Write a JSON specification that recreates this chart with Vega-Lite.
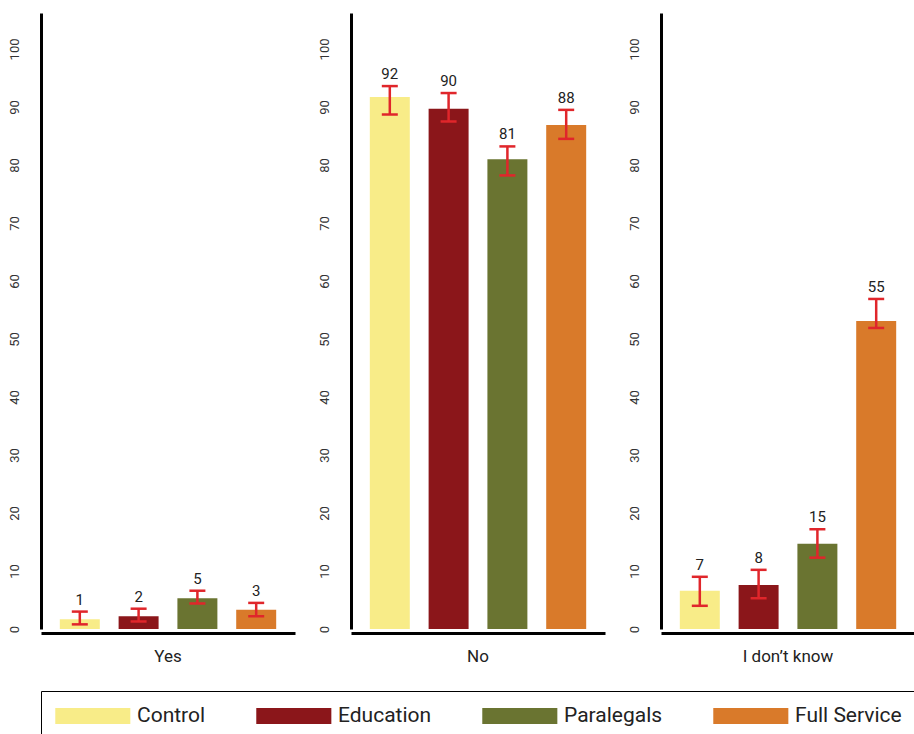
{
  "$schema": "https://vega.github.io/schema/vega-lite/v6.json",
  "background": "white",
  "padding": {"left": 7, "top": 13, "right": 0, "bottom": 0},
  "config": {
    "font": "Roboto",
    "view": {"stroke": null},
    "axis": {"grid": false}
  },
  "data": {
    "values": [
      {"response": "Yes", "group": "Control", "value": 1.7, "lo": 0.8, "hi": 3.0, "label": "1"},
      {"response": "Yes", "group": "Education", "value": 2.2, "lo": 1.3, "hi": 3.5, "label": "2"},
      {"response": "Yes", "group": "Paralegals", "value": 5.3, "lo": 4.4, "hi": 6.6, "label": "5"},
      {"response": "Yes", "group": "Full Service", "value": 3.3, "lo": 2.2, "hi": 4.5, "label": "3"},
      {"response": "No", "group": "Control", "value": 91.7, "lo": 88.7, "hi": 93.6, "label": "92"},
      {"response": "No", "group": "Education", "value": 89.7, "lo": 87.5, "hi": 92.4, "label": "90"},
      {"response": "No", "group": "Paralegals", "value": 81.0, "lo": 78.2, "hi": 83.2, "label": "81"},
      {"response": "No", "group": "Full Service", "value": 86.9, "lo": 84.5, "hi": 89.5, "label": "88"},
      {"response": "I don’t know", "group": "Control", "value": 6.6, "lo": 4.0, "hi": 9.0, "label": "7"},
      {"response": "I don’t know", "group": "Education", "value": 7.6, "lo": 5.3, "hi": 10.2, "label": "8"},
      {"response": "I don’t know", "group": "Paralegals", "value": 14.7, "lo": 12.3, "hi": 17.2, "label": "15"},
      {"response": "I don’t know", "group": "Full Service", "value": 53.1, "lo": 51.9, "hi": 56.9, "label": "55"}
    ]
  },
  "facet": {
    "column": {
      "field": "response",
      "type": "nominal",
      "sort": ["Yes", "No", "I don’t know"],
      "header": {
        "title": null,
        "labelOrient": "bottom",
        "labelFontSize": 17,
        "labelColor": "#222",
        "labelPadding": 24,
        "labelBaseline": "middle"
      }
    }
  },
  "spacing": 22,
  "resolve": {"axis": {"y": "independent"}},
  "spec": {
    "width": 254,
    "height": 616,
    "encoding": {
      "x": {
        "field": "group",
        "type": "nominal",
        "sort": ["Control", "Education", "Paralegals", "Full Service"],
        "scale": {"paddingInner": 0.32, "paddingOuter": 0.32},
        "axis": {"labels": false, "ticks": false, "title": null, "domainColor": "black", "domainWidth": 3}
      }
    },
    "layer": [
      {
        "mark": {"type": "bar"},
        "encoding": {
          "y": {
            "field": "value",
            "type": "quantitative",
            "scale": {"domain": [0, 106.2], "nice": false},
            "axis": {
              "title": null,
              "values": [0, 10, 20, 30, 40, 50, 60, 70, 80, 90, 100],
              "ticks": false,
              "labelAngle": 270,
              "labelAlign": "center",
              "labelBaseline": "bottom",
              "labelPadding": 20,
              "labelFontSize": 13,
              "labelColor": "#333",
              "domainColor": "black",
              "domainWidth": 3
            }
          },
          "color": {
            "field": "group",
            "type": "nominal",
            "sort": ["Control", "Education", "Paralegals", "Full Service"],
            "scale": {
              "domain": ["Control", "Education", "Paralegals", "Full Service"],
              "range": ["#F8EC88", "#8B161A", "#6A7431", "#D97A2A"]
            },
            "legend": {
              "title": null,
              "orient": "bottom",
              "direction": "horizontal",
              "offset": 26,
              "symbolType": "M-1,-0.75H6V0.75H-1Z",
              "symbolSize": 460,
              "symbolStrokeWidth": 0,
              "symbolOpacity": 1,
              "labelFontSize": 21,
              "labelColor": "#222",
              "labelOffset": 60,
              "columnPadding": 50,
              "padding": 14,
              "strokeColor": "black"
            }
          }
        }
      },
      {
        "mark": {"type": "rule", "color": "#E0262B", "strokeWidth": 2.5},
        "encoding": {
          "y": {"field": "lo", "type": "quantitative"},
          "y2": {"field": "hi"}
        }
      },
      {
        "mark": {"type": "tick", "color": "#E0262B", "thickness": 2.5, "size": 16, "opacity": 1},
        "encoding": {
          "y": {"field": "lo", "type": "quantitative"}
        }
      },
      {
        "mark": {"type": "tick", "color": "#E0262B", "thickness": 2.5, "size": 16, "opacity": 1},
        "encoding": {
          "y": {"field": "hi", "type": "quantitative"}
        }
      },
      {
        "mark": {"type": "text", "dy": -7, "baseline": "alphabetic", "fontSize": 15, "color": "#222"},
        "encoding": {
          "y": {"field": "hi", "type": "quantitative"},
          "text": {"field": "label"}
        }
      }
    ]
  }
}
